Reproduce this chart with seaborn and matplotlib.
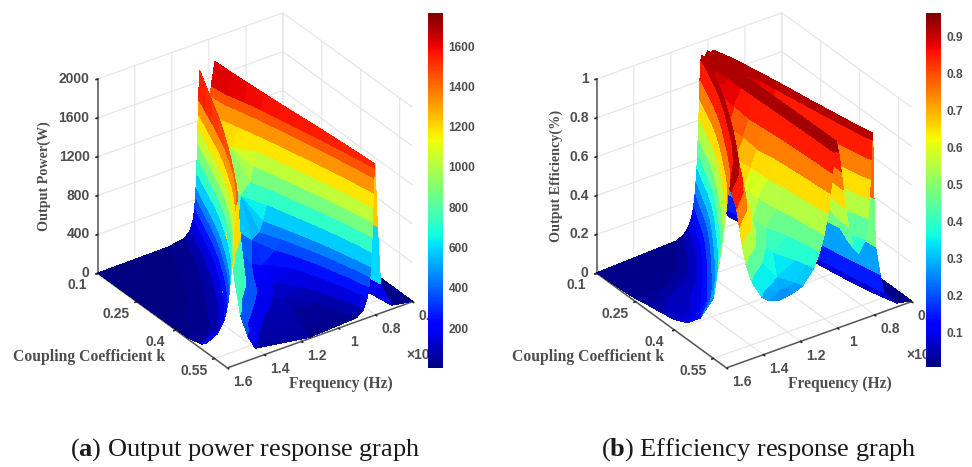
import numpy as np
import matplotlib
matplotlib.use("Agg")
import matplotlib.pyplot as plt
from matplotlib.cm import ScalarMappable
from matplotlib.colors import Normalize
import seaborn as sns

k_rows = [0.10, 0.15, 0.20, 0.25, 0.30, 0.35, 0.40, 0.45, 0.50, 0.55, 0.58, 0.60]

# --- (a) output power ---
p_rise_l_levels = [40, 300, 900]
p_rise_l_f = [[.878, .938, .955], [.856, .916, .933], [.837, .897, .914], [.818, .878, .895],
              [.801, .861, .878], [.785, .845, .862], [.769, .829, .846], [.754, .814, .831],
              [.740, .800, .817], [.726, .786, .803], [.718, .778, .795], [.713, .773, .790]]
p_crest_l_f = [.968, .946, .927, .908, .891, .875, .859, .844, .830, .816, .808, .803]
p_crest_l = [1750, 1715, 1690, 1665, 1645, 1630, 1615, 1600, 1585, 1570, 1560, 1555]
p_fall_l_levels = [1500, 1400, 1250, 1100, 950, 800, 650, 500, 400, 300, 200, 100, 40]
p_fall_l_f = [[.988, .993] + [1.005] * 11,
              [.976, .984, .994] + [1.02] * 10,
              [.948, .957, .969] + [1.03] * 10,
              [.926, .935, .945, .955, .966, .985] + [1.04] * 7,
              [.907, .914, .923, .931, .941, .951, .964, .985, 1.005] + [1.05] * 4,
              [.889, .895, .903, .910, .918, .927, .938, .952, .965, .990] + [1.06] * 3,
              [.870, .875, .881, .887, .894, .901, .910, .921, .932, .946, .970, 1.075, 1.075],
              [.853, .857, .862, .866, .871, .877, .884, .893, .901, .912, .931, .975, 1.09],
              [.837, .840, .844, .847, .852, .856, .861, .868, .875, .884, .899, .930, .990],
              [.821, .824, .827, .829, .833, .836, .840, .846, .851, .857, .869, .893, .941],
              [.813, .815, .818, .820, .823, .826, .830, .835, .839, .845, .856, .878, .920],
              [.807, .809, .812, .814, .816, .819, .822, .827, .831, .836, .845, .865, .903]]
p_valley_f = [1.005, 1.02, 1.03, 1.04, 1.05, 1.06, 1.075, 1.09, 1.11, 1.13, 1.15, 1.16]
p_valley = [1250, 1200, 1100, 700, 350, 200, 130, 80, 50, 30, 20, 12]
p_rise_h_levels = [100, 250, 500, 1000, 1400]
p_rise_h_f = [[1.005, 1.005, 1.005, 1.005, 1.046], [1.02, 1.02, 1.02, 1.02, 1.08],
              [1.03, 1.03, 1.03, 1.03, 1.114], [1.04, 1.04, 1.04, 1.138, 1.148],
              [1.05, 1.05, 1.13, 1.181, 1.19], [1.06, 1.12, 1.205, 1.225, 1.235],
              [1.075, 1.18, 1.25, 1.274, 1.286], [1.15, 1.23, 1.30, 1.327, 1.34],
              [1.26, 1.32, 1.36, 1.39, 1.405], [1.36, 1.42, 1.455, 1.49, 1.508],
              [1.41, 1.46, 1.495, 1.535, 1.555], [1.45, 1.49, 1.53, 1.57, 1.59]]
p_crest_h_f = [1.05, 1.085, 1.12, 1.155, 1.195, 1.24, 1.29, 1.345, 1.41, 1.515, 1.565, 1.60]
p_crest_h = [1715, 1670, 1625, 1580, 1530, 1490, 1450, 1440, 1450, 1480, 1500, 1520]
p_fall_h_levels = [1400, 1250, 1100, 950, 800, 650, 500, 400, 300, 200, 100, 40, 12]
p_fall_h_f = [[1.056, 1.058, 1.060, 1.062, 1.064, 1.067, 1.070, 1.073, 1.078, 1.085, 1.102, 1.133, 1.22],
              [1.091, 1.093, 1.095, 1.098, 1.100, 1.103, 1.107, 1.110, 1.115, 1.123, 1.141, 1.175, 1.265],
              [1.126, 1.128, 1.130, 1.132, 1.135, 1.138, 1.142, 1.146, 1.152, 1.159, 1.179, 1.213, 1.30],
              [1.162, 1.164, 1.167, 1.169, 1.172, 1.175, 1.180, 1.184, 1.191, 1.199, 1.221, 1.26, 1.355],
              [1.200, 1.204, 1.206, 1.209, 1.213, 1.217, 1.222, 1.227, 1.233, 1.243, 1.266, 1.309, 1.405],
              [1.246, 1.250, 1.253, 1.256, 1.260, 1.264, 1.270, 1.275, 1.282, 1.294, 1.319, 1.366, 1.48],
              [1.294, 1.299, 1.303, 1.307, 1.311, 1.316, 1.322, 1.327, 1.335, 1.348, 1.374, 1.426, 1.55],
              [1.350, 1.355, 1.359, 1.363, 1.368, 1.373, 1.380, 1.385, 1.394, 1.408, 1.437, 1.493, 1.6],
              [1.415, 1.421, 1.426, 1.430, 1.435, 1.441, 1.449, 1.455, 1.465, 1.480, 1.513, 1.575, 1.6],
              [1.523, 1.529, 1.535, 1.540, 1.545, 1.552, 1.561, 1.569, 1.585, 1.6, 1.6, 1.6, 1.6],
              [1.575, 1.581, 1.586, 1.592, 1.598] + [1.6] * 8,
              [1.6] * 13]
p_edge = [3, 4, 5, 6, 8, 9, 11, 14, 50, 280, 750, 1520]   # along the f = 1.6 side
p_far = 5                                                 # along the f = 0.6 side

# --- (b) efficiency ---
e_rise_l_levels = [.02, .05, .1, .2, .35, .6]
e_rise_l_f = [[.842, .887, .912, .932, .946, .960], [.825, .870, .895, .915, .930, .942],
              [.810, .852, .877, .897, .913, .924], [.795, .835, .860, .880, .897, .908],
              [.780, .822, .846, .866, .883, .893], [.765, .808, .832, .852, .870, .880],
              [.752, .795, .819, .840, .857, .867], [.735, .780, .805, .825, .843, .852],
              [.720, .765, .790, .810, .828, .837], [.700, .745, .770, .790, .810, .820],
              [.690, .730, .760, .780, .800, .810], [.680, .710, .750, .770, .795, .803]]
e_crest_l_f = [.972, .952, .934, .917, .902, .888, .875, .860, .845, .830, .820, .810]
e_crest_l = [.935, .94, .94, .94, .94, .94, .94, .94, .94, .94, .94, .94]
e_fall_l_levels = [.9, .8, .7, .6, .5, .4]
e_fall_l_f = [[.985] * 6, [.975] * 6, [.965] * 6, [.925] + [.955] * 5,
              [.912, .945, .945, .945, .945, .945], [.897, .910, .935, .935, .935, .935],
              [.883, .893, .905, .925, .925, .925], [.868, .877, .888, .900, .915, .915],
              [.852, .860, .868, .878, .905, .905], [.836, .842, .848, .855, .865, .895],
              [.825, .830, .835, .840, .848, .865], [.814, .819, .823, .828, .834, .850]]
e_valley1_f = [.985, .975, .965, .955, .945, .935, .925, .915, .905, .895, .890, .886]
e_valley1 = [.92, .92, .90, .87, .82, .75, .66, .57, .48, .40, .36, .345]
e_rise_m_levels = [.4, .5, .6, .7, .8, .9]
e_rise_m_f = [[.985] * 6, [.975] * 6, [.965] * 6, [.955] * 5 + [.980],
              [.945] * 5 + [.985], [.935] * 4 + [.960, .988],
              [.925] * 3 + [.945, .970, .990], [.915, .915, .930, .960, .975, .992],
              [.905, .912, .948, .965, .978, .993], [.895, .935, .953, .967, .980, .994],
              [.915, .940, .955, .968, .980, .994], [.916, .940, .955, .968, .980, .993]]
e_crest_m_f = [1.0, 1.004, 1.006, 1.008, 1.008, 1.008, 1.008, 1.008, 1.008, 1.008, 1.008, 1.007]
e_crest_m = [.94, .945, .95, .955, .96, .96, .962, .963, .964, .965, .965, .965]
e_fall_m_levels = [.9, .8, .7, .6, .5, .42, .35, .28, .26]
e_fall_m_f = [[1.02] * 9, [1.035] * 9, [1.03] + [1.05] * 8, [1.03] + [1.07] * 8,
              [1.028, 1.06] + [1.09] * 7, [1.025, 1.052, 1.085] + [1.12] * 6,
              [1.022, 1.045, 1.068, 1.095] + [1.15] * 5, [1.02, 1.04, 1.06, 1.08, 1.115] + [1.18] * 4,
              [1.018, 1.036, 1.052, 1.072, 1.098, 1.13, 1.21, 1.21, 1.21],
              [1.017, 1.032, 1.046, 1.063, 1.087, 1.115, 1.155, 1.26, 1.26],
              [1.016, 1.03, 1.042, 1.056, 1.078, 1.105, 1.14, 1.20, 1.245],
              [1.015, 1.028, 1.038, 1.052, 1.073, 1.098, 1.13, 1.19, 1.25]]
e_valley2_f = [1.02, 1.035, 1.05, 1.07, 1.09, 1.12, 1.15, 1.18, 1.21, 1.26, 1.29, 1.32]
e_valley2 = [.91, .90, .88, .82, .72, .62, .52, .43, .36, .30, .27, .25]
e_rise_h_levels = [.27, .3, .4, .5, .6, .7, .8, .9]
e_rise_h_f = [[1.02] * 8, [1.035] * 8, [1.05] * 7 + [1.102], [1.07] * 7 + [1.14],
              [1.09] * 6 + [1.178, 1.186], [1.12] * 5 + [1.21, 1.228, 1.235],
              [1.15] * 4 + [1.235, 1.26, 1.275, 1.283], [1.18, 1.18, 1.18, 1.25, 1.285, 1.31, 1.325, 1.337],
              [1.21, 1.21, 1.25, 1.30, 1.33, 1.355, 1.375, 1.395],
              [1.26, 1.26, 1.34, 1.375, 1.40, 1.42, 1.44, 1.465],
              [1.29, 1.37, 1.425, 1.455, 1.475, 1.49, 1.505, 1.53],
              [1.375, 1.41, 1.465, 1.495, 1.515, 1.53, 1.545, 1.575]]
e_crest_h_f = [1.034, 1.07, 1.105, 1.145, 1.19, 1.24, 1.29, 1.345, 1.41, 1.49, 1.55, 1.60]
e_crest_h = [.93, .935, .94, .945, .945, .945, .945, .945, .945, .945, .94, .94]
e_fall_h_levels = [.9, .8, .7, .6, .5, .42, .35, .28, .22, .16, .11, .07, .04, .02]
e_fall_h_f = [[1.039, 1.043, 1.046, 1.049, 1.053, 1.056, 1.060, 1.065, 1.070, 1.078, 1.089, 1.105, 1.129, 1.170],
              [1.076, 1.081, 1.085, 1.089, 1.094, 1.098, 1.103, 1.109, 1.116, 1.126, 1.139, 1.159, 1.189, 1.241],
              [1.112, 1.118, 1.123, 1.128, 1.133, 1.139, 1.144, 1.152, 1.160, 1.172, 1.188, 1.211, 1.248, 1.31],
              [1.154, 1.161, 1.167, 1.173, 1.180, 1.186, 1.193, 1.202, 1.212, 1.227, 1.247, 1.276, 1.321, 1.45],
              [1.201, 1.209, 1.217, 1.224, 1.233, 1.240, 1.249, 1.260, 1.272, 1.290, 1.314, 1.349, 1.50, 1.6],
              [1.253, 1.263, 1.272, 1.280, 1.290, 1.299, 1.309, 1.322, 1.336, 1.358, 1.386, 1.45, 1.6, 1.6],
              [1.305, 1.317, 1.327, 1.337, 1.349, 1.359, 1.371, 1.386, 1.403, 1.428, 1.461, 1.509, 1.6, 1.6],
              [1.362, 1.375, 1.387, 1.398, 1.411, 1.423, 1.437, 1.453, 1.472, 1.50, 1.538, 1.6, 1.6, 1.6],
              [1.428, 1.444, 1.457, 1.47, 1.484, 1.497, 1.512, 1.531, 1.552, 1.6, 1.6, 1.6, 1.6, 1.6],
              [1.51, 1.527, 1.541, 1.555, 1.571, 1.585, 1.6, 1.6, 1.6, 1.6, 1.6, 1.6, 1.6, 1.6],
              [1.571, 1.588] + [1.6] * 12,
              [1.6] * 14]
e_edge = [.003, .006, .01, .015, .03, .04, .055, .085, .16, .31, .60, .94]
e_far = .004

freq_ticks = [0.6, 0.8, 1.0, 1.2, 1.4, 1.6]
freq_labels = ['0.6', '0.8', '1', '1.2', '1.4', '1.6']
k_ticks = [0.1, 0.25, 0.4, 0.55]
k_labels = ['0.1', '0.25', '0.4', '0.55']
power_ticks = [0, 400, 800, 1200, 1600, 2000]
eff_ticks = [0, 0.2, 0.4, 0.6, 0.8, 1]
eff_labels = ['0', '0.2', '0.4', '0.6', '0.8', '1']
power_bar_ticks = [200, 400, 600, 800, 1000, 1200, 1400, 1600]
eff_bar_ticks = [0.1, 0.2, 0.3, 0.4, 0.5, 0.6, 0.7, 0.8, 0.9]

sns.set_theme(style="white")
plt.rcParams['font.family'] = ['Liberation Sans', 'DejaVu Sans']
plt.rcParams['mathtext.fontset'] = 'custom'
plt.rcParams['mathtext.rm'] = 'Liberation Serif'
plt.rcParams['mathtext.bf'] = 'Liberation Serif:bold'
jet = matplotlib.colormaps['jet']
GREY = '#4d4d4d'
W, H = 972, 467


def col(values):
    return np.asarray(values, dtype=float)[:, None]


def levels(values):
    return np.tile(values, (len(k_rows), 1)).astype(float)


def power_mesh():
    F = np.hstack([np.full((12, 1), 0.6), p_rise_l_f, col(p_crest_l_f), p_fall_l_f, col(p_valley_f),
                   p_rise_h_f, col(p_crest_h_f), p_fall_h_f, np.full((12, 1), 1.6)])
    Z = np.hstack([np.full((12, 1), p_far), levels(p_rise_l_levels), col(p_crest_l),
                   np.maximum(levels(p_fall_l_levels), col(p_valley)), col(p_valley),
                   np.maximum(levels(p_rise_h_levels), col(p_valley)), col(p_crest_h),
                   levels(p_fall_h_levels), col(p_edge)])
    return F, Z, col(p_edge)


def eff_mesh():
    F = np.hstack([np.full((12, 1), 0.6), e_rise_l_f, col(e_crest_l_f), e_fall_l_f, col(e_valley1_f),
                   e_rise_m_f, col(e_crest_m_f), e_fall_m_f, col(e_valley2_f), e_rise_h_f,
                   col(e_crest_h_f), e_fall_h_f, np.full((12, 1), 1.6)])
    Z = np.hstack([np.full((12, 1), e_far), levels(e_rise_l_levels), col(e_crest_l),
                   np.maximum(levels(e_fall_l_levels), col(e_valley1)), col(e_valley1),
                   np.maximum(levels(e_rise_m_levels), col(e_valley1)), col(e_crest_m),
                   np.maximum(levels(e_fall_m_levels), col(e_valley2)), col(e_valley2),
                   np.maximum(levels(e_rise_h_levels), col(e_valley2)), col(e_crest_h),
                   levels(e_fall_h_levels), col(e_edge)])
    return F, Z, col(e_edge)


def draw_panel(fig, mesh, zmax, zticks, zlabels, vmin, vmax, bar_ticks, dx):
    F, Z, edge = mesh
    # on the f = 1.6 side every contour stops at the height read along that edge
    Z = np.where(F >= 1.6, np.repeat(edge, F.shape[1], axis=1), Z)
    K = np.repeat(col(k_rows), F.shape[1], axis=1)

    size = 420
    ax = fig.add_axes([(249.5 + dx - size / 2) / W, 1 - (196 + size / 2) / H, size / W, size / H],
                      projection='3d', computed_zorder=False)
    ax.patch.set_alpha(0)
    ax.set_proj_type('ortho')
    ax.view_init(elev=30.7, azim=55)
    ax.set_box_aspect((1, 1, 1), zoom=0.905)
    norm = Normalize(vmin, vmax)
    # strips go from the far frequency to the near one, so steep walls cover what is behind them
    for j in range(F.shape[1] - 1):
        ax.plot_surface(F[:, j:j + 2], K[:, j:j + 2], Z[:, j:j + 2], rstride=1, cstride=1, cmap=jet,
                        norm=norm, linewidth=0, antialiased=False, shade=False, zorder=j + 1)
    ax.set_xlim(0.6, 1.6, view_margin=0)
    ax.set_ylim(0.1, 0.6, view_margin=0)
    ax.set_zlim(0, zmax, view_margin=0)
    ax.set_xticks(freq_ticks)
    ax.set_yticks(k_ticks)
    ax.set_zticks(zticks)
    for axis in (ax.xaxis, ax.yaxis, ax.zaxis):
        axis.set_pane_color((1, 1, 1, 0))
        axis.pane.set_edgecolor('#e4e4e4')
        axis._axinfo['grid'].update(color='#e4e4e4', linewidth=0.8)
        axis._axinfo['tick'].update(inward_factor=0.12, outward_factor=0)
        axis.line.set_color('#555555')
        axis.line.set_linewidth(1.1)
        for tick in axis.get_major_ticks():
            tick.label1.set_visible(False)

    tick_text = dict(color=GREY, fontsize=10, fontweight='bold', zorder=500)
    for f, label in zip(freq_ticks, freq_labels):
        ax.text(f, 0.66, -0.015 * zmax, label, ha='center', va='center', **tick_text)
    for k, label in zip(k_ticks, k_labels):
        ax.text(1.71, k, -0.025 * zmax, label, ha='center', va='center', **tick_text)
    for z, label in zip(zticks, zlabels):
        ax.text(1.644, 0.1, z + 0.015 * zmax, label, ha='right', va='center', **tick_text)

    cax = fig.add_axes([(428 + dx * 0.998) / W, 1 - 367.5 / H, 15 / W, 354.5 / H])
    cax.set_zorder(5)
    bar = fig.colorbar(ScalarMappable(norm=norm, cmap=jet), cax=cax)
    bar.outline.set_visible(False)
    bar.set_ticks(bar_ticks, labels=[f'{t:g}' for t in bar_ticks])
    bar.ax.tick_params(length=0, labelsize=8.6, colors=GREY, pad=4)
    for label in bar.ax.get_yticklabels():
        label.set_fontweight('bold')
    return ax


def px_text(fig, x, y, text, **kw):
    fig.text(x / W, 1 - y / H, text, ha='center', va='center', **kw)


fig = plt.figure(figsize=(W / 100, H / 100), dpi=100, facecolor='white')
ax_a = draw_panel(fig, power_mesh(), 2000, power_ticks, [str(t) for t in power_ticks],
                  4, 1764, power_bar_ticks, 0)
ax_b = draw_panel(fig, eff_mesh(), 1, eff_ticks, eff_labels, 0.004, 0.965, eff_bar_ticks, 499)

serif = dict(family='Liberation Serif', fontweight='bold', color=GREY)
for dx, zlabel, zx in ((0, 'Output Power(W)', 44), (499, 'Output Efficiency(%)', 556)):
    px_text(fig, 89 + dx, 357, 'Coupling Coefficient k', fontsize=11.3, **serif)
    px_text(fig, 341 + dx, 384, 'Frequency (Hz)', fontsize=11.2, **serif)
    px_text(fig, zx, 176, zlabel, rotation=90, fontsize=10.2, **serif)
for ax, x in ((ax_a, 418), (ax_b, 918)):
    ax.text2D(x / W, 1 - 355 / H, '\u00d710', transform=fig.transFigure, ha='center', va='center',
              color=GREY, fontsize=10, fontweight='bold', clip_on=False)

px_text(fig, 245, 450, r'($\mathbf{a}$) Output power response graph', family='Liberation Serif',
        fontsize=19, color='#1a1a1a')
px_text(fig, 759, 450, r'($\mathbf{b}$) Efficiency response graph', family='Liberation Serif',
        fontsize=19, color='#1a1a1a')
fig.savefig('out.png', dpi=100)
